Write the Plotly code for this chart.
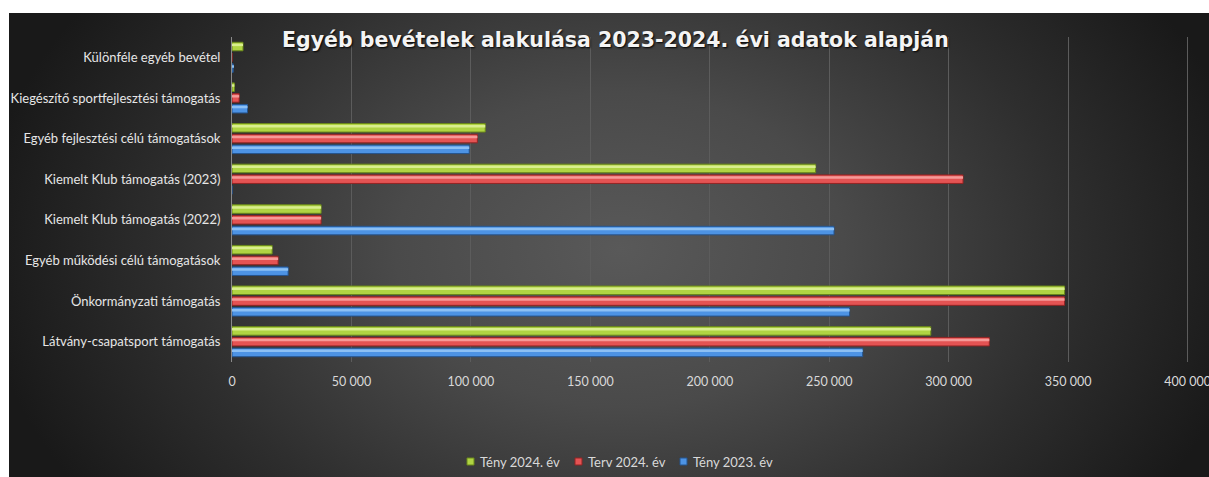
import base64
import plotly.graph_objects as go

categories = [
    "Látvány-csapatsport támogatás",
    "Önkormányzati támogatás",
    "Egyéb működési célú támogatások",
    "Kiemelt Klub támogatás (2022)",
    "Kiemelt Klub támogatás (2023)",
    "Egyéb fejlesztési célú támogatások",
    "Kiegészítő sportfejlesztési támogatás",
    "Különféle egyéb bevétel",
]
teny_2023 = [264000, 258500, 23500, 252000, 0, 99300, 6500, 500]
terv_2024 = [317000, 348500, 19300, 37300, 306000, 102700, 3000, 0]
teny_2024 = [292500, 348500, 16800, 37300, 244300, 106000, 1000, 4600]

series_names = ["Tény 2023. év", "Terv 2024. év", "Tény 2024. év"]
tick_vals = [0, 50000, 100000, 150000, 200000, 250000, 300000, 350000, 400000]
tick_text = ["0", "50 000", "100 000", "150 000", "200 000", "250 000", "300 000", "350 000", "400 000"]
title_text = "Egyéb bevételek alakulása 2023-2024. évi adatok alapján"

W, H = 1209, 477
ML, MR, MT, MB = 232, 19, 37, 115
PW, PH = W - ML - MR, H - MT - MB
X_MAX = 401000

def px_to_paper_x(px):
    return (px - ML) / PW

def px_to_paper_y(py):
    return (H - MB - py) / PH

svg = """<svg xmlns='http://www.w3.org/2000/svg' width='1209' height='477' viewBox='0 0 1209 477' preserveAspectRatio='none'>
<defs><radialGradient id='g' gradientUnits='userSpaceOnUse' cx='620' cy='250' r='640' fx='620' fy='250' gradientTransform='translate(620 250) scale(1 0.7) translate(-620 -250)'>
<stop offset='0' stop-color='#595959'/><stop offset='0.35' stop-color='#4a4a4a'/><stop offset='0.7' stop-color='#2e2e2e'/><stop offset='1' stop-color='#191919'/></radialGradient></defs>
<rect width='1209' height='477' fill='url(#g)'/></svg>"""
bg_uri = "data:image/svg+xml;base64," + base64.b64encode(svg.encode()).decode()

colors = ["#4d93e4", "#e45353", "#b0d443"]
hi_colors = ["#8cc0f4", "#f59a98", "#d9ee8e"]
line_colors = ["#24548f", "#922424", "#6a881a"]
offsets = [-0.37, -0.105, 0.16]
bar_w = 0.21

fig = go.Figure()
for name, vals, c, hc, lc, off in zip(series_names, [teny_2023, terv_2024, teny_2024],
                                       colors, hi_colors, line_colors, offsets):
    fig.add_trace(go.Bar(
        y=categories, x=vals, name=name, orientation="h",
        offset=off, width=bar_w,
        marker=dict(color=c, line=dict(color=lc, width=1)),
    ))
    fig.add_trace(go.Bar(
        y=categories, x=vals, name=name, orientation="h", showlegend=False,
        offset=off + 0.115, width=0.06, hoverinfo="skip",
        marker=dict(color=hc, line=dict(width=0)),
    ))

x0 = px_to_paper_x(0)
x1 = px_to_paper_x(W)
y0 = px_to_paper_y(0)
y1 = px_to_paper_y(H)

shapes = [
    dict(type="rect", xref="paper", yref="paper", x0=-1, x1=2,
         y0=px_to_paper_y(13), y1=2, fillcolor="white", line=dict(width=0), layer="below"),
    dict(type="rect", xref="paper", yref="paper", x0=-1, x1=px_to_paper_x(9),
         y0=-2, y1=2, fillcolor="white", line=dict(width=0), layer="below"),
]
annotations = [dict(text="<b>" + title_text + "</b>", xref="paper", yref="paper",
                    x=px_to_paper_x(615), y=px_to_paper_y(40), xanchor="center",
                    yanchor="middle", showarrow=False,
                    font=dict(family="DejaVu Sans, sans-serif", size=20.5, color="#f4f4f4",
                              shadow="1px 1px 2px #000000"))]

# custom legend (order as in reference: reversed)
legend_x = [467, 575, 680]
for i, (name, c, lc) in enumerate(zip(series_names[::-1], colors[::-1], line_colors[::-1])):
    lx = legend_x[i]
    shapes.append(dict(type="rect", xref="paper", yref="paper",
                       x0=px_to_paper_x(lx), x1=px_to_paper_x(lx + 7),
                       y0=px_to_paper_y(465), y1=px_to_paper_y(458),
                       fillcolor=c, line=dict(color=lc, width=1)))
    annotations.append(dict(text=name, xref="paper", yref="paper",
                            x=px_to_paper_x(lx + 11), y=px_to_paper_y(461.5),
                            xanchor="left", yanchor="middle", showarrow=False,
                            font=dict(size=13, color="#d9d9d9")))

fig.update_layout(
    width=W, height=H,
    margin=dict(l=ML, r=MR, t=MT, b=MB, autoexpand=False),
    paper_bgcolor="#262626",
    plot_bgcolor="rgba(0,0,0,0)",
    barmode="overlay",
    showlegend=False,
    font=dict(family="Lato, Open Sans, sans-serif", size=12, color="#d9d9d9"),
    images=[dict(source=bg_uri, xref="paper", yref="paper", x=x0, y=y0,
                 sizex=x1 - x0, sizey=y0 - y1, sizing="stretch", layer="below",
                 xanchor="left", yanchor="top")],
    shapes=shapes,
    annotations=annotations,
    xaxis=dict(range=[0, X_MAX], tickvals=tick_vals, ticktext=tick_text, automargin=False,
               showgrid=True, gridcolor="#5c5c5c", gridwidth=1, zeroline=False,
               showline=False, ticks="", tickfont=dict(size=12.5, color="#d9d9d9"),
               ticklabelstandoff=10, ticklabeloverflow="allow"),
    yaxis=dict(showgrid=False, showline=True, linecolor="#8a8a8a", linewidth=1, automargin=False,
               range=[-0.5, len(categories) - 0.5],
               ticks="", tickfont=dict(size=13, color="#e6e6e6"), ticklabelstandoff=8),
)

fig.write_html("out.html")
